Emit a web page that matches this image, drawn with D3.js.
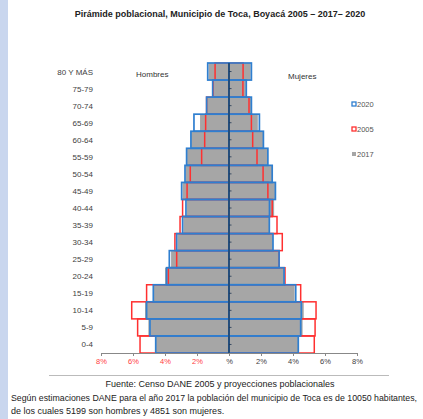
<!DOCTYPE html>
<html><head><meta charset="utf-8">
<script src="https://cdn.jsdelivr.net/npm/d3@7"></script>
<style>html,body{margin:0;padding:0;background:#fff;}svg{display:block;}</style>
</head><body>
<script>
const categories = ["80 Y MÁS","75-79","70-74","65-69","60-64","55-59","50-54","45-49","40-44","35-39","30-34","25-29","20-24","15-19","10-14","5-9","0-4"];
const hombres2020 = [1.33,1.02,1.40,2.19,2.38,2.65,2.75,2.96,2.69,2.90,3.27,3.73,3.90,4.73,5.15,4.94,4.58];
const hombres2005 = [0.87,1.00,1.40,1.46,1.52,1.71,2.42,2.62,2.90,3.06,3.38,3.27,3.79,5.15,6.08,5.71,5.56];
const hombres2017 = [1.27,1.02,1.40,1.81,2.38,2.62,2.72,2.90,2.65,2.85,3.22,3.62,4.00,4.70,5.25,5.04,4.58];
const mujeres2020 = [1.40,1.08,1.40,1.90,2.15,2.43,2.70,2.90,2.53,2.52,2.75,3.13,3.44,4.17,4.52,4.48,4.33];
const mujeres2005 = [0.88,0.87,1.25,1.40,1.48,1.75,2.13,2.43,2.70,3.00,3.33,3.13,3.50,4.48,5.44,5.38,5.33];
const mujeres2017 = [1.35,1.05,1.40,1.80,2.15,2.43,2.70,2.90,2.82,2.50,2.75,3.13,3.44,4.10,4.67,4.60,4.33];
const tickValues = [-8,-6,-4,-2,0,2,4,6,8];
const tickLabels = ["8%","6%","4%","2%","%","2%","4%","6%","8%"];
const legendItems = [{name:"2020",key:"s2020"},{name:"2005",key:"s2005"},{name:"2017",key:"s2017"}];

const W=423,H=419;
const svg=d3.select("body").append("svg").attr("width",W).attr("height",H);
const font="'Liberation Sans', Arial, sans-serif";

// left decorative band
svg.append("rect").attr("x",0).attr("y",0).attr("width",8).attr("height",H).attr("fill","#c9d6ee");

const x=d3.scaleLinear().domain([-8,8]).range([101,357]);
const y=d3.scaleBand().domain(categories).range([63,353]).padding(0);

svg.append("text").attr("x",220).attr("y",16.5).attr("text-anchor","middle")
  .attr("font-family",font).attr("font-weight","bold").attr("font-size",9).attr("fill","#222")
  .text("Pirámide poblacional, Municipio de Toca, Boyacá 2005 – 2017– 2020");

const colors={s2020:"#2f7fd0",s2005:"#ff3030",s2017:"#a6a6a6"};

function series(vals, sign){ return categories.map((c,i)=>({c, v:vals[i]*sign})); }
function drawBars(data, fill, stroke, sw){
  svg.append("g").selectAll("rect").data(data).join("rect")
    .attr("x",d=>Math.min(x(0),x(d.v)))
    .attr("y",d=>y(d.c))
    .attr("width",d=>Math.abs(x(d.v)-x(0)))
    .attr("height",y.bandwidth())
    .attr("fill",fill).attr("stroke",stroke).attr("stroke-width",sw);
}
// 2017 gray filled
drawBars(series(hombres2017,-1),"#a6a6a6","none",0);
drawBars(series(mujeres2017,1),"#a6a6a6","none",0);
// 2005 red outline
drawBars(series(hombres2005,-1),"none",colors.s2005,1.5);
drawBars(series(mujeres2005,1),"none",colors.s2005,1.5);
// 2020 blue outline
drawBars(series(hombres2020,-1),"none",colors.s2020,1.7);
drawBars(series(mujeres2020,1),"none",colors.s2020,1.7);

// center axis
const ca=svg.append("g");
ca.append("line").attr("x1",x(0)).attr("x2",x(0)).attr("y1",63).attr("y2",353).attr("stroke","#1e3550").attr("stroke-width",1.3);
ca.selectAll("line.t").data(categories).join("line").attr("class","t")
  .attr("x1",x(0)).attr("x2",x(0)+2.5).attr("y1",d=>y(d)+y.bandwidth()/2).attr("y2",d=>y(d)+y.bandwidth()/2)
  .attr("stroke","#1e3550").attr("stroke-width",0.8);

// category labels
svg.append("g").selectAll("text").data(categories).join("text")
  .attr("x",93).attr("y",d=>y(d)+y.bandwidth()/2+3).attr("text-anchor","end")
  .attr("font-family",font).attr("font-size",8).attr("fill","#404040").text(d=>d);

// bottom axis
const xAxis=d3.axisBottom(x).tickValues(tickValues).tickSize(3).tickFormat((d,i)=>tickLabels[i]);
const ag=svg.append("g").attr("transform","translate(0,353)").call(xAxis);
ag.select(".domain").attr("stroke","#888");
ag.selectAll(".tick line").attr("stroke","#888");
ag.selectAll(".tick text").attr("font-family",font).attr("font-size",7.5).attr("dy","0.6em")
  .attr("fill",d=>d<0?"#ff4040":"#404040");

// group labels
svg.append("text").attr("x",136).attr("y",77).attr("font-family",font).attr("font-size",8).attr("fill","#333").text("Hombres");
svg.append("text").attr("x",288).attr("y",79).attr("font-family",font).attr("font-size",8).attr("fill","#333").text("Mujeres");

// legend
const lg=svg.append("g").selectAll("g").data(legendItems).join("g")
  .attr("transform",(d,i)=>`translate(352,${104+i*25})`);
lg.append("rect").attr("x",0).attr("y",-2).attr("width",4).attr("height",4)
  .attr("fill",d=>d.key==="s2017"?"#a6a6a6":"#fff")
  .attr("stroke",d=>d.key==="s2017"?"none":colors[d.key]).attr("stroke-width",1.3);
lg.append("text").attr("x",5).attr("y",3).attr("font-family",font).attr("font-size",7.5).attr("fill","#555").text(d=>d.name);

// separator line and notes
svg.append("line").attr("x1",49).attr("x2",389).attr("y1",375.5).attr("y2",375.5).attr("stroke","#bbb").attr("stroke-width",1);
svg.append("text").attr("x",220).attr("y",387).attr("text-anchor","middle").attr("font-family",font).attr("font-size",9).attr("fill","#222")
  .text("Fuente: Censo DANE 2005 y proyecciones poblacionales");
svg.append("text").attr("x",11).attr("y",401).attr("font-family",font).attr("font-size",8.8).attr("fill","#222")
  .attr("textLength",406).attr("lengthAdjust","spacingAndGlyphs")
  .text("Según estimaciones DANE para el año 2017 la población del municipio de Toca es de 10050 habitantes,");
svg.append("text").attr("x",11).attr("y",414).attr("font-family",font).attr("font-size",9).attr("fill","#222")
  .text("de los cuales 5199 son hombres y 4851 son mujeres.");
</script>
</body></html>
